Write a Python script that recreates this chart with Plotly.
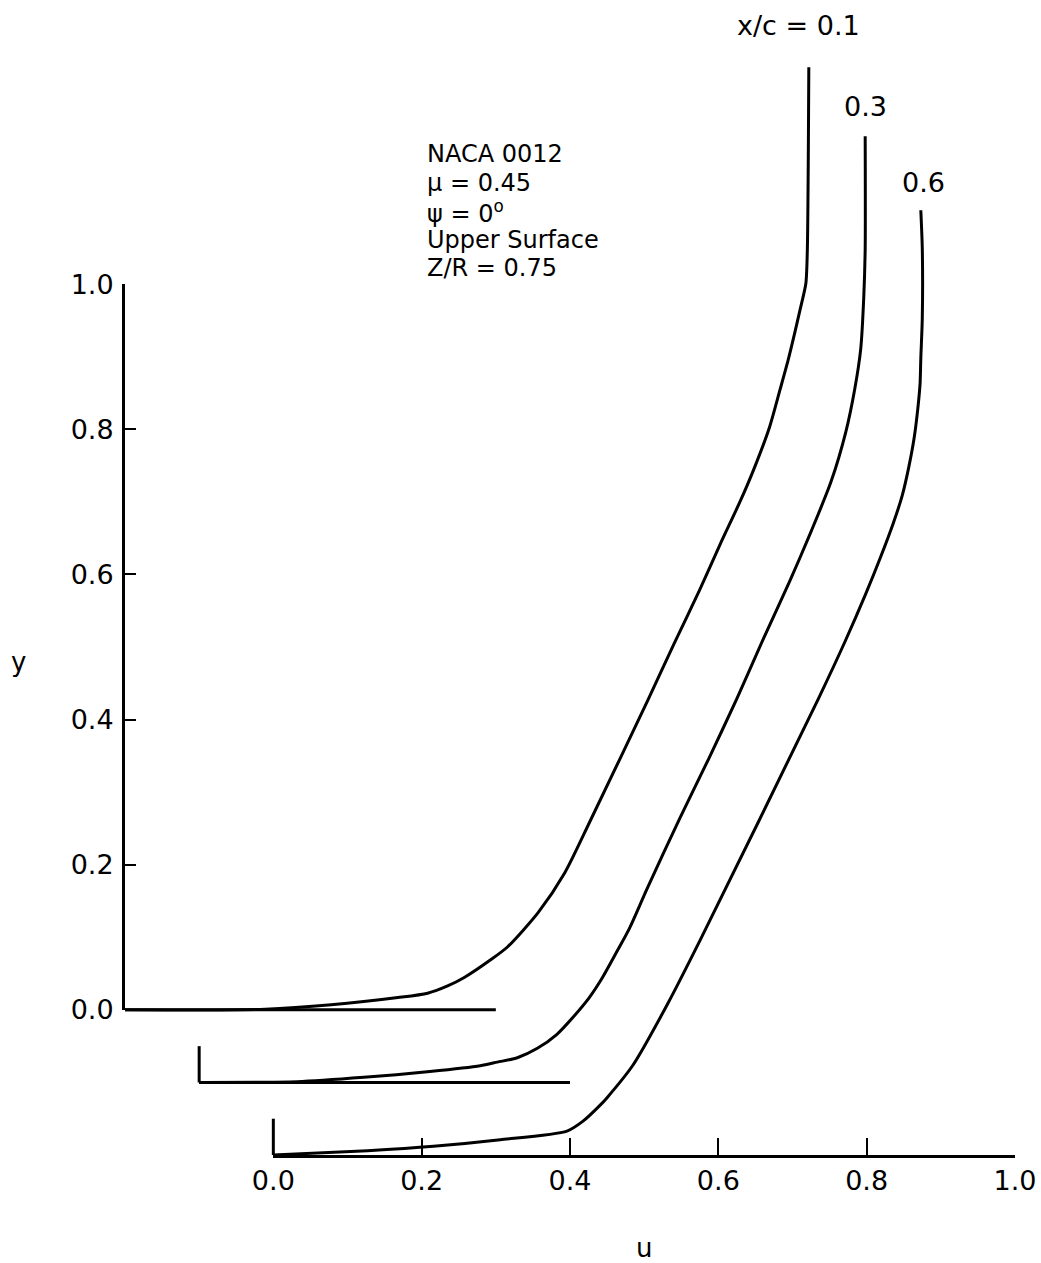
import plotly.graph_objects as go

# Velocity profiles u(y) on the upper surface, NACA 0012, mu = 0.45, psi = 0 deg, Z/R = 0.75.
# Each profile is given in its own (u, y) frame, measured from that profile's origin.
stations = ["x/c = 0.1", "0.3", "0.6"]

u_01 = [0.0, 0.189, 0.278, 0.368, 0.408, 0.435, 0.458, 0.493, 0.516, 0.557, 0.593,
        0.628, 0.705, 0.741, 0.775, 0.803, 0.830, 0.849, 0.869, 0.883, 0.894, 0.903,
        0.910, 0.918, 0.920, 0.922]
y_01 = [0.0, 0.001, 0.007, 0.017, 0.023, 0.033, 0.045, 0.069, 0.087, 0.134, 0.189,
        0.262, 0.427, 0.506, 0.579, 0.643, 0.702, 0.748, 0.803, 0.854, 0.895, 0.933,
        0.964, 1.001, 1.047, 1.299]

u_03 = [0.0, 0.132, 0.222, 0.311, 0.379, 0.402, 0.429, 0.456, 0.482, 0.505, 0.526,
        0.544, 0.563, 0.580, 0.604, 0.648, 0.687, 0.725, 0.761, 0.796, 0.825, 0.852,
        0.872, 0.884, 0.892, 0.896, 0.898, 0.898]
y_03 = [0.0, 0.001, 0.007, 0.015, 0.023, 0.028, 0.034, 0.047, 0.066, 0.091, 0.117,
        0.145, 0.180, 0.212, 0.267, 0.364, 0.446, 0.529, 0.612, 0.690, 0.759, 0.828,
        0.897, 0.956, 1.011, 1.080, 1.149, 1.304]

u_06 = [0.0, 0.127, 0.216, 0.306, 0.396, 0.418, 0.441, 0.450, 0.485, 0.531, 0.575,
        0.735, 0.771, 0.799, 0.818, 0.836, 0.848, 0.857, 0.864, 0.869, 0.872, 0.873,
        0.875, 0.875, 0.873]
y_06 = [0.0, 0.006, 0.012, 0.021, 0.033, 0.047, 0.069, 0.079, 0.124, 0.207, 0.295,
        0.629, 0.708, 0.774, 0.822, 0.871, 0.909, 0.949, 0.988, 1.029, 1.063, 1.098,
        1.153, 1.249, 1.302]

profiles = [(u_01, y_01), (u_03, y_03), (u_06, y_06)]

# staggered origins of the three profiles (in the frame of the bottom u axis)
origin_dx = [-0.2, -0.1, 0.0]
origin_dy = [0.0, -0.1, -0.2]
baseline_len = [0.5, 0.5, 1.0]
origin_tick = 0.05

tick_vals = [0.0, 0.2, 0.4, 0.6, 0.8, 1.0]

FONT = "DejaVu Sans"
INK = "black"
LW = 3
CLEAR = "rgba(0,0,0,0)"

X_MIN, X_MAX = -0.2, 1.0
Y_MIN, Y_MAX = -0.2, 1.36

fig = go.Figure()

# empty traces so the scale axes get their own subplots
fig.add_trace(go.Scatter(x=[], y=[], xaxis="x2", yaxis="y", showlegend=False, hoverinfo="skip"))
fig.add_trace(go.Scatter(x=[], y=[], xaxis="x", yaxis="y2", showlegend=False, hoverinfo="skip"))

for i, (u, y) in enumerate(profiles):
    dx, dy = origin_dx[i], origin_dy[i]
    # profile curve
    fig.add_trace(go.Scatter(
        x=[dx + v for v in u], y=[dy + v for v in y], mode="lines",
        line=dict(color=INK, width=LW, shape="spline", smoothing=0.7),
        showlegend=False, hoverinfo="skip"))
    # baseline of the profile (the last one is the u axis itself)
    if i < 2:
        fig.add_trace(go.Scatter(
            x=[dx, dx + baseline_len[i]], y=[dy, dy], mode="lines",
            line=dict(color=INK, width=LW), showlegend=False, hoverinfo="skip"))
    # short vertical mark at the origin (the first one is the y axis itself)
    if i > 0:
        fig.add_trace(go.Scatter(
            x=[dx, dx], y=[dy, dy + origin_tick], mode="lines",
            line=dict(color=INK, width=LW), showlegend=False, hoverinfo="skip"))

# station labels above the top of each curve
label_shift = [(-10, 42), (0, 30), (3, 28)]
for i, (u, y) in enumerate(profiles):
    fig.add_annotation(
        x=origin_dx[i] + u[-1], y=origin_dy[i] + y[-1], text=stations[i],
        showarrow=False, xanchor="center", yanchor="middle",
        xshift=label_shift[i][0], yshift=label_shift[i][1],
        font=dict(family=FONT, size=27, color=INK))

# case description
case_lines = ["NACA 0012", "\u03bc = 0.45", "\u03c8 = 0<sup>o</sup>", "Upper Surface", "Z/R = 0.75"]
case_y = [1.180, 1.140, 1.100, 1.061, 1.022]
for txt, yy in zip(case_lines, case_y):
    fig.add_annotation(x=0.205, y=yy, text=txt, showarrow=False,
                       xanchor="left", yanchor="middle",
                       font=dict(family=FONT, size=24, color=INK))

# y axis title, upright
fig.add_annotation(xref="paper", yref="y2", x=-0.12, y=0.48, text="y", showarrow=False,
                   xanchor="center", yanchor="middle",
                   font=dict(family=FONT, size=26, color=INK))

axis_common = dict(showgrid=False, zeroline=False, showline=True, linecolor=INK,
                   linewidth=LW, ticks="inside", tickcolor=INK, tickwidth=2,
                   tickvals=tick_vals, tickformat=".1f", automargin=False,
                   tickfont=dict(family=FONT, size=27, color=INK))

fig.update_layout(
    width=1041, height=1263,
    margin=dict(l=125, r=26, t=23, b=108, autoexpand=False),
    paper_bgcolor="white", plot_bgcolor=CLEAR,
    xaxis=dict(range=[X_MIN, X_MAX], visible=False, domain=[0, 1], automargin=False),
    yaxis=dict(range=[Y_MIN, Y_MAX], visible=False, domain=[0, 1], automargin=False),
    xaxis2=dict(range=[0, 1], anchor="y", side="bottom",
                domain=[(0 - X_MIN) / (X_MAX - X_MIN), 1],
                ticklen=17,
                title=dict(text="u", standoff=48,
                           font=dict(family=FONT, size=26, color=INK)),
                **axis_common),
    yaxis2=dict(range=[0, 1], anchor="x", side="left",
                domain=[(0 - Y_MIN) / (Y_MAX - Y_MIN), (1 - Y_MIN) / (Y_MAX - Y_MIN)],
                ticklen=11, ticklabelstandoff=3,
                **axis_common),
)

fig.write_html("out.html")
